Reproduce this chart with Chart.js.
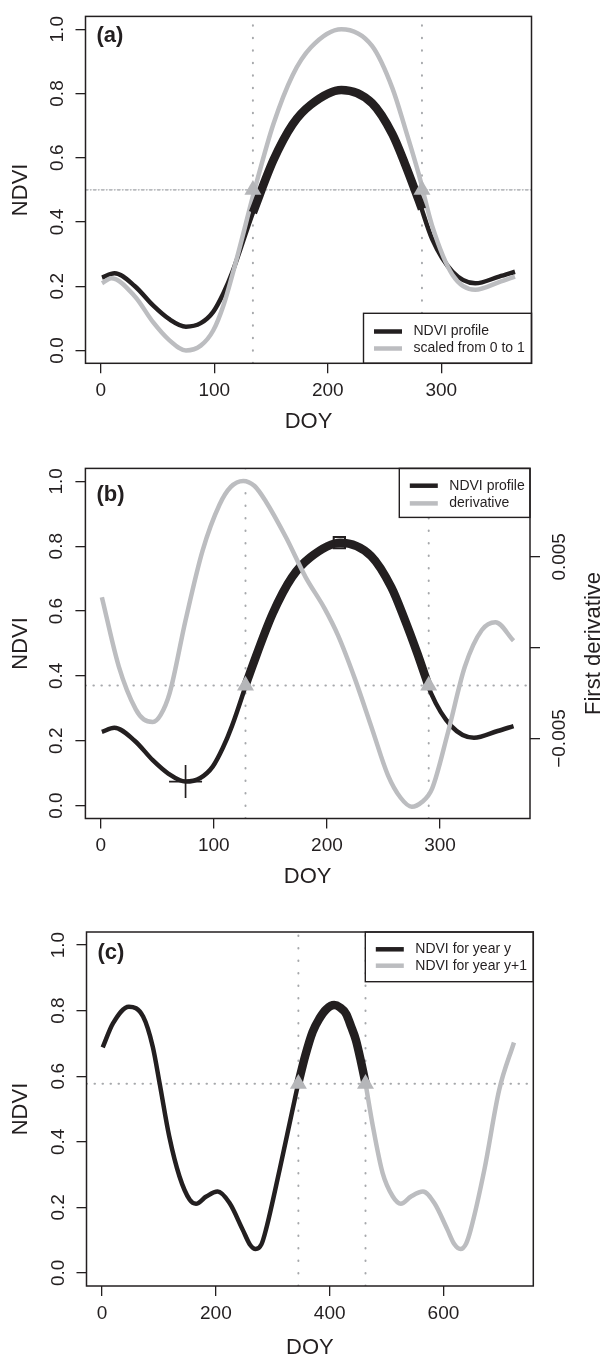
<!DOCTYPE html>
<html>
<head>
<meta charset="utf-8">
<title>NDVI phenology</title>
<script src="https://cdn.jsdelivr.net/npm/chart.js@4.4.1/dist/chart.umd.min.js"></script>
<style>
  body { margin: 0; background: #fff; }
  #page { position: relative; width: 603px; height: 1359px; overflow: hidden; background: #fff; }
  #page canvas { position: absolute; left: 0; }
</style>
</head>
<body>
<div id="page">
  <canvas id="chartA" width="603" height="452" style="top:0px"></canvas>
  <canvas id="chartB" width="603" height="455" style="top:452px"></canvas>
  <canvas id="chartC" width="603" height="452" style="top:907px"></canvas>
</div>
<script>
// ---- values ----
const xTicksYear = [0, 100, 200, 300];
const xTickLabelsYear = ['0', '100', '200', '300'];
const xTicksTwoYears = [0, 200, 400, 600];
const xTickLabelsTwoYears = ['0', '200', '400', '600'];
const yTicks = [0, 0.2, 0.4, 0.6, 0.8, 1.0];
const yTickLabels = ['0.0', '0.2', '0.4', '0.6', '0.8', '1.0'];
const derivTicks = [-0.005, 0, 0.005];
const derivTickLabels = ['\u22120.005', '', '0.005'];

// (a), (b): NDVI profile over one year
const profileDoy = [1, 12, 30, 46, 60, 75, 88, 99, 108, 116, 134, 152, 169, 185, 212, 239, 257, 268, 280, 292, 310, 330, 351, 365];
const profileNdvi = [0.227, 0.240, 0.200, 0.140, 0.098, 0.074, 0.085, 0.120, 0.178, 0.245, 0.429, 0.592, 0.704, 0.765, 0.811, 0.770, 0.673, 0.581, 0.469, 0.347, 0.245, 0.209, 0.230, 0.245];

// (a): profile scaled from 0 to 1
const scaledDoy = [1, 9, 30, 46, 60, 75, 88, 99, 108, 119, 137, 152, 169, 185, 212, 239, 257, 268, 280, 292, 310, 330, 351, 365];
const scaledNdvi = [0.209, 0.225, 0.168, 0.088, 0.033, 0.0, 0.015, 0.062, 0.140, 0.276, 0.520, 0.704, 0.857, 0.943, 1.0, 0.948, 0.816, 0.694, 0.551, 0.388, 0.235, 0.189, 0.213, 0.230];

// (a): season above half amplitude
const seasonDoyA = [134, 152, 169, 185, 212, 239, 257, 268, 280, 283];
const seasonNdviA = [0.429, 0.592, 0.704, 0.765, 0.811, 0.770, 0.673, 0.581, 0.469, 0.440];
const markDoyA = [134, 283];
const levelA = 0.5;

// (b): season from the derivative, min / max and first derivative
const seasonDoyB = [128, 134, 152, 169, 185, 212, 239, 257, 268, 280, 290];
const seasonNdviB = [0.370, 0.429, 0.592, 0.704, 0.765, 0.811, 0.770, 0.673, 0.581, 0.469, 0.367];
const markDoyB = [128, 290];
const levelB = 0.37;
const minDoyB = [75];
const minNdviB = [0.074];
const maxDoyB = [211];
const maxNdviB = [0.811];
const derivDoy = [1, 16, 31, 38, 46, 53, 61, 75, 90, 105, 115, 126, 136, 146, 164, 181, 198, 210, 225, 240, 254, 265, 275, 284, 293, 307, 322, 337, 349, 365];
const derivValue = [0.00278, -0.00104, -0.00340, -0.00395, -0.00409, -0.00370, -0.00249, 0.00151, 0.00533, 0.00787, 0.00885, 0.00918, 0.00890, 0.00805, 0.00605, 0.00390, 0.00215, 0.00065, -0.00176, -0.00449, -0.00703, -0.00825, -0.00876, -0.00850, -0.00776, -0.00467, -0.00104, 0.00097, 0.00140, 0.00038];

// (c): two consecutive years
const yearYDoy = [1, 19, 47, 72, 89, 101, 118, 136, 154, 165, 183, 203, 224, 247, 260, 270, 280, 288, 312, 335, 345, 357, 370, 382, 394, 408, 418, 429, 438, 446, 455, 463];
const yearYNdvi = [0.688, 0.761, 0.812, 0.782, 0.690, 0.579, 0.416, 0.294, 0.223, 0.211, 0.233, 0.248, 0.213, 0.132, 0.086, 0.073, 0.087, 0.132, 0.315, 0.500, 0.579, 0.662, 0.735, 0.776, 0.804, 0.817, 0.810, 0.790, 0.750, 0.711, 0.645, 0.579];
const yearY1Doy = [463, 476, 493, 511, 525, 543, 564, 584, 607, 619, 630, 640, 648, 672, 698, 724];
const yearY1Ndvi = [0.579, 0.447, 0.305, 0.233, 0.211, 0.233, 0.248, 0.213, 0.132, 0.088, 0.073, 0.090, 0.132, 0.315, 0.558, 0.703];
const seasonDoyC = [345, 357, 370, 382, 394, 408, 418, 429, 438, 446, 455, 463];
const seasonNdviC = [0.579, 0.662, 0.735, 0.776, 0.804, 0.817, 0.810, 0.790, 0.750, 0.711, 0.645, 0.579];
const markDoyC = [345, 463];
const levelC = 0.577;

const legendLabelsA = ['NDVI profile', 'scaled from 0 to 1'];
const legendLabelsB = ['NDVI profile', 'derivative'];
const legendLabelsC = ['NDVI for year y', 'NDVI for year y+1'];

// ---- styling ----
const FONT = "'Liberation Sans', Arial, Helvetica, sans-serif";
const INK = '#231f20';
const GREY = '#bcbdc0';
const DOT = '#a7a9ac';
const Y_MIN = -0.04;
const Y_MAX = 1.04;

Chart.defaults.font.family = FONT;
Chart.defaults.color = INK;

function pts(xs, ys) {
    return xs.map((x, i) => ({ x, y: ys[i] }));
}

function curve(data, color, width, order, axis) {
    return {
        data, order,
        yAxisID: axis || 'y',
        borderColor: color,
        borderWidth: width,
        pointRadius: 0,
        cubicInterpolationMode: 'monotone',
        borderCapStyle: 'butt',
        borderJoinStyle: 'round',
        fill: false
    };
}

function dotted(data, dash, width, color) {
    return {
        data, order: 9,
        borderColor: color || DOT,
        borderWidth: width || 2,
        borderDash: dash,
        borderCapStyle: 'round',
        pointRadius: 0,
        fill: false
    };
}

function marks(data, style, radius, fillColor, lineColor, lineWidth, order) {
    return {
        data, order,
        showLine: false,
        pointStyle: style,
        pointRadius: radius,
        pointBackgroundColor: fillColor,
        pointBorderColor: lineColor,
        pointBorderWidth: lineWidth
    };
}

// threshold guides: vertical lines at the season limits and a horizontal level line
function guides(markDoy, level, xMin, xMax, hDash, hWidth, hColor) {
    return [
        dotted(pts([markDoy[0], markDoy[0]], [Y_MIN, Y_MAX]), [0.5, 12]),
        dotted(pts([markDoy[1], markDoy[1]], [Y_MIN, Y_MAX]), [0.5, 12]),
        dotted(pts([xMin, xMax], [level, level]), hDash, hWidth, hColor)
    ];
}

function xScale(p) {
    return {
        type: 'linear', position: 'bottom', min: p.xMin, max: p.xMax,
        afterBuildTicks: s => { s.ticks = p.xTicks.map(value => ({ value })); },
        afterFit: s => { s.height = p.height - p.boxBottom; },
        grid: { drawOnChartArea: false, drawTicks: true, tickLength: 10, color: INK, lineWidth: 1.3 },
        border: { display: false },
        ticks: {
            autoSkip: false, maxRotation: 0, padding: 6, color: INK,
            font: { size: 19 },
            callback: (v, i) => p.xLabels[i]
        },
        title: {
            display: true, text: 'DOY', color: INK,
            font: { size: 22, lineHeight: 1 },
            padding: { top: 0, bottom: p.doyPad }
        }
    };
}

function yScale(p) {
    return {
        type: 'linear', position: 'left', min: Y_MIN, max: Y_MAX,
        afterBuildTicks: s => { s.ticks = yTicks.map(value => ({ value })); },
        afterFit: s => { s.width = p.left; },
        grid: { drawOnChartArea: false, drawTicks: true, tickLength: 10, color: INK, lineWidth: 1.3 },
        border: { display: false },
        ticks: {
            autoSkip: false, minRotation: 90, maxRotation: 90, crossAlign: 'center',
            padding: 5, color: INK, font: { size: 19 },
            callback: (v, i) => yTickLabels[i]
        },
        title: {
            display: true, text: 'NDVI', color: INK,
            font: { size: 22, lineHeight: 1 },
            padding: { top: 10, bottom: 0 }
        }
    };
}

// frame, legend, panel letter and right-hand title
const decorConfig = {};

const decor = {
    id: 'decor',
    afterDraw(chart) {
        const o = decorConfig[chart.canvas.id];
        const { ctx, chartArea: a } = chart;
        ctx.save();

        const L = o.legend;
        const x0 = a.right - L.w;
        const y0 = L.atBottom ? a.bottom - L.h : a.top;
        ctx.fillStyle = '#fff';
        ctx.fillRect(x0, y0, L.w, L.h);
        ctx.font = `14px ${FONT}`;
        ctx.textBaseline = 'middle';
        ctx.textAlign = 'left';
        L.labels.forEach((label, i) => {
            const y = y0 + L.rows[i];
            ctx.strokeStyle = L.colors[i];
            ctx.lineWidth = 4.5;
            ctx.beginPath();
            ctx.moveTo(x0 + 10.5, y);
            ctx.lineTo(x0 + 38.5, y);
            ctx.stroke();
            ctx.fillStyle = INK;
            ctx.fillText(label, x0 + 50, y);
        });
        ctx.strokeStyle = INK;
        ctx.lineWidth = 1.4;
        ctx.strokeRect(x0, y0, L.w, L.h);

        ctx.lineWidth = 1.5;
        ctx.strokeRect(a.left, a.top, a.right - a.left, a.bottom - a.top);

        ctx.font = `bold 22px ${FONT}`;
        ctx.fillStyle = INK;
        ctx.fillText(o.tag, a.left + 11, a.top + o.tagDy);

        if (o.rightTitle) {
            ctx.translate(o.rightTitleX, (a.top + a.bottom) / 2);
            ctx.rotate(-Math.PI / 2);
            ctx.textAlign = 'center';
            ctx.font = `22px ${FONT}`;
            ctx.fillText(o.rightTitle, 0, 0);
        }
        ctx.restore();
    }
};

function makePanel(p, datasets, extraScales) {
    decorConfig[p.id] = p.decor;
    const scales = Object.assign({ x: xScale(p), y: yScale(p) }, extraScales || {});
    return new Chart(document.getElementById(p.id), {
        type: 'line',
        data: { datasets },
        options: {
            responsive: false,
            devicePixelRatio: 1,
            animation: false,
            events: [],
            layout: {
                autoPadding: false,
                padding: { top: p.boxTop, left: 0, right: p.rightPad, bottom: 0 }
            },
            plugins: { legend: { display: false }, tooltip: { enabled: false } },
            scales
        },
        plugins: [decor]
    });
}

// ---- panel (a) ----
const panelA = {
    id: 'chartA', height: 452, boxTop: 10, boxBottom: 363.3, left: 85.5, rightPad: 603 - 531.5,
    xMin: -13.56, xMax: 379.56, xTicks: xTicksYear, xLabels: xTickLabelsYear, doyPad: 19,
    decor: {
        tag: '(a)', tagDy: 20,
        legend: { atBottom: true, w: 168, h: 50, rows: [18.2, 35.2], labels: legendLabelsA, colors: [INK, GREY] }
    }
};
makePanel(panelA, [
    marks(pts(markDoyA, [levelA, levelA]), 'triangle', 9.8, '#b5b6b9', '#b5b6b9', 0, 0),
    curve(pts(seasonDoyA, seasonNdviA), INK, 8.5, 1),
    curve(pts(scaledDoy, scaledNdvi), GREY, 4.5, 2),
    curve(pts(profileDoy, profileNdvi), INK, 4.5, 3),
    ...guides(markDoyA, levelA, panelA.xMin, panelA.xMax, [2.5, 2.5, 0.5, 2.5], 1.6, '#b9bbbe')
]);

// ---- panel (b) ----
const panelB = {
    id: 'chartB', height: 455, boxTop: 13, boxBottom: 366.5, left: 85.4, rightPad: 0,
    xMin: -13.56, xMax: 379.56, xTicks: xTicksYear, xLabels: xTickLabelsYear, doyPad: 19,
    decor: {
        tag: '(b)', tagDy: 26.5,
        rightTitle: 'First derivative', rightTitleX: 594,
        legend: { atBottom: false, w: 130.7, h: 49, rows: [17.3, 35], labels: legendLabelsB, colors: [INK, GREY] }
    }
};
makePanel(panelB, [
    curve(pts(derivDoy, derivValue), GREY, 4.5, 0, 'y2'),
    marks(pts(markDoyB, [levelB, levelB]), 'triangle', 9.8, '#b5b6b9', '#b5b6b9', 0, 1),
    marks(pts(minDoyB, minNdviB), 'cross', 16.5, 'rgba(0,0,0,0)', INK, 1.7, 1),
    marks(pts(maxDoyB, maxNdviB), 'rect', 8, 'rgba(0,0,0,0)', INK, 2, 1),
    curve(pts(seasonDoyB, seasonNdviB), INK, 8.5, 2),
    curve(pts(profileDoy, profileNdvi), INK, 4.5, 3),
    ...guides(markDoyB, levelB, panelB.xMin, panelB.xMax, [0.5, 7.5])
], {
    y2: {
        type: 'linear', position: 'right', min: -0.009406, max: 0.009869,
        afterBuildTicks: s => { s.ticks = derivTicks.map(value => ({ value })); },
        afterFit: s => { s.width = 73; },
        grid: { drawOnChartArea: false, drawTicks: true, tickLength: 10, color: INK, lineWidth: 1.3 },
        border: { display: false },
        ticks: {
            autoSkip: false, minRotation: 90, maxRotation: 90, crossAlign: 'center',
            padding: -10, color: INK, font: { size: 19 },
            callback: (v, i) => derivTickLabels[i]
        }
    }
});

// ---- panel (c) ----
const panelC = {
    id: 'chartC', height: 452, boxTop: 25, boxBottom: 379, left: 86.5, rightPad: 603 - 533.3,
    xMin: -27.5, xMax: 758, xTicks: xTicksTwoYears, xLabels: xTickLabelsTwoYears, doyPad: 0,
    decor: {
        tag: '(c)', tagDy: 20.7,
        legend: { atBottom: false, w: 168, h: 49.7, rows: [17.3, 33.7], labels: legendLabelsC, colors: [INK, GREY] }
    }
};
makePanel(panelC, [
    marks(pts(markDoyC, [levelC, levelC]), 'triangle', 9.8, '#b5b6b9', '#b5b6b9', 0, 0),
    curve(pts(seasonDoyC, seasonNdviC), INK, 8.5, 1),
    curve(pts(yearY1Doy, yearY1Ndvi), GREY, 4.5, 2),
    curve(pts(yearYDoy, yearYNdvi), INK, 4.5, 3),
    ...guides(markDoyC, levelC, panelC.xMin, panelC.xMax, [0.5, 7.5])
]);
</script>
</body>
</html>
